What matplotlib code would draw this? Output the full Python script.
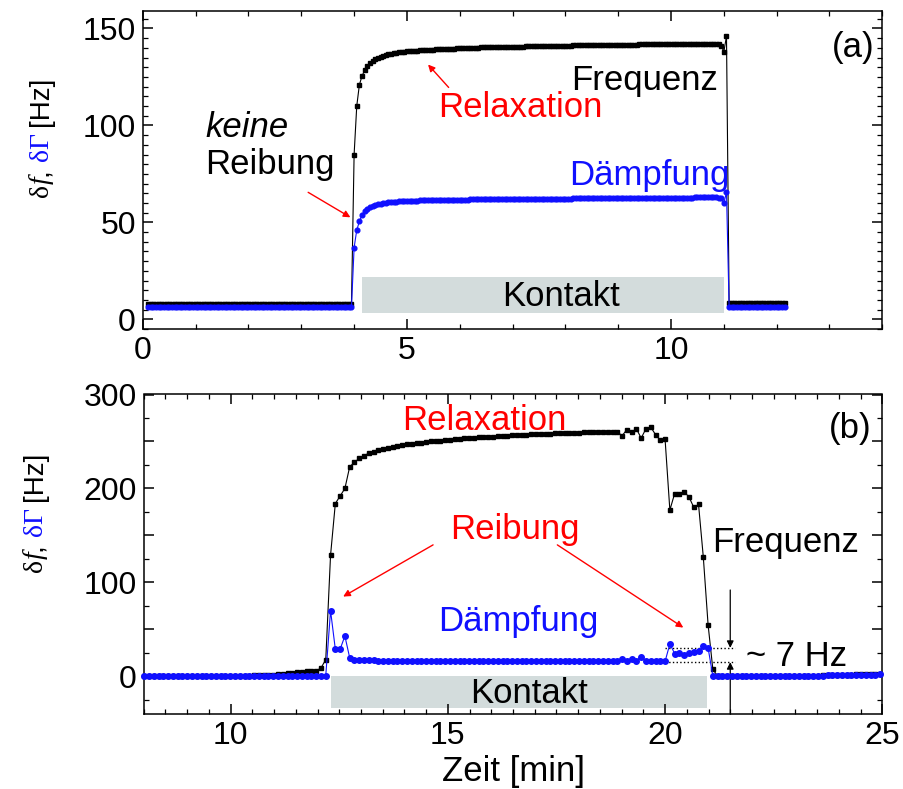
import matplotlib
matplotlib.use("Agg")
import matplotlib.pyplot as plt
import numpy as np
from matplotlib.patches import Rectangle
from matplotlib.ticker import MultipleLocator, FuncFormatter
from matplotlib.transforms import IdentityTransform

plt.rcParams["font.family"] = ["Liberation Sans", "DejaVu Sans"]

BLUE = "#1010ff"
RED = "#ff0000"
CONTACT = "#d3dcdc"

# ---- panel (a): one sample every 0.05 min, starting at 0.10 min ----
t_a_start, t_a_step = 0.10, 0.05
freq_a = [
    7.7, 7.7, 7.7, 7.7, 7.7, 7.7, 7.7, 7.7, 7.7, 7.7,
    7.7, 7.7, 7.7, 7.7, 7.7, 7.7, 7.7, 7.7, 7.7, 7.7,
    7.7, 7.7, 7.7, 7.7, 7.7, 7.7, 7.7, 7.7, 7.7, 7.7,
    7.7, 7.7, 7.7, 7.7, 7.7, 7.7, 7.7, 7.7, 7.7, 7.7,
    7.7, 7.7, 7.7, 7.7, 7.7, 7.7, 7.7, 7.8, 7.8, 7.8,
    7.8, 7.8, 7.8, 7.8, 7.8, 7.8, 7.8, 7.8, 7.8, 7.8,
    7.8, 7.8, 7.8, 7.8, 7.8, 7.8, 7.8, 7.8, 7.8, 7.8,
    7.8, 7.8, 7.8, 7.8, 7.8, 7.8, 7.8, 7.8, 85.0, 110.0,
    121.0, 125.5, 128.5, 130.5, 132.0, 133.2, 134.1, 134.8, 135.4, 135.9,
    136.3, 136.7, 137.0, 137.3, 137.5, 137.7, 137.9, 138.1, 138.2, 138.3,
    138.4, 138.5, 138.6, 138.7, 138.8, 138.9, 139.0, 139.0, 139.1, 139.2,
    139.3, 139.3, 139.4, 139.5, 139.5, 139.6, 139.6, 139.7, 139.8, 139.8,
    139.9, 139.9, 140.0, 140.0, 140.1, 140.1, 140.2, 140.2, 140.2, 140.3,
    140.3, 140.4, 140.4, 140.4, 140.5, 140.5, 140.5, 140.6, 140.6, 140.6,
    140.7, 140.7, 140.7, 140.8, 140.8, 140.8, 140.9, 140.9, 140.9, 141.0,
    141.0, 141.0, 141.0, 141.1, 141.1, 141.1, 141.1, 141.2, 141.2, 141.2,
    141.2, 141.3, 141.3, 141.3, 141.3, 141.4, 141.4, 141.4, 141.4, 141.4,
    141.5, 141.5, 141.5, 141.5, 141.5, 141.6, 141.6, 141.6, 141.6, 141.6,
    141.7, 141.7, 141.7, 141.7, 141.7, 141.7, 141.8, 141.8, 141.8, 141.8,
    141.8, 141.8, 141.9, 141.9, 141.9, 141.9, 141.9, 141.9, 142.0, 142.0,
    142.0, 142.0, 142.0, 142.0, 142.1, 142.1, 142.1, 142.1, 142.1, 142.1,
    142.2, 142.2, 142.2, 142.2, 142.2, 142.1, 142.0, 141.2, 138.0, 146.0,
    8.6, 8.6, 8.6, 8.6, 8.6, 8.6, 8.6, 8.6, 8.6, 8.6,
    8.6, 8.6, 8.6, 8.6, 8.6, 8.6, 8.6, 8.6, 8.6, 8.6,
    8.6, 8.6,
]
damp_a = [
    6.3, 6.3, 6.3, 6.3, 6.3, 6.3, 6.3, 6.3, 6.3, 6.3,
    6.3, 6.3, 6.3, 6.3, 6.3, 6.3, 6.3, 6.3, 6.3, 6.3,
    6.3, 6.3, 6.3, 6.3, 6.3, 6.3, 6.3, 6.3, 6.3, 6.3,
    6.3, 6.3, 6.3, 6.3, 6.3, 6.3, 6.3, 6.3, 6.3, 6.3,
    6.3, 6.3, 6.3, 6.3, 6.3, 6.3, 6.3, 6.3, 6.3, 6.3,
    6.3, 6.3, 6.3, 6.3, 6.3, 6.3, 6.3, 6.3, 6.3, 6.3,
    6.3, 6.3, 6.3, 6.3, 6.3, 6.3, 6.3, 6.3, 6.3, 6.3,
    6.3, 6.3, 6.3, 6.3, 6.3, 6.3, 6.3, 6.3, 37.0, 46.0,
    50.5, 54.0, 55.8, 57.0, 57.9, 58.5, 59.0, 59.4, 59.7, 59.9,
    60.1, 60.3, 60.5, 60.6, 60.7, 60.8, 60.9, 61.0, 61.0, 61.1,
    61.1, 61.2, 61.2, 61.3, 61.3, 61.3, 61.4, 61.4, 61.4, 61.5,
    61.5, 61.5, 61.5, 61.6, 61.6, 61.6, 61.6, 61.7, 61.7, 61.7,
    61.7, 61.7, 61.8, 61.8, 61.8, 61.8, 61.8, 61.9, 61.9, 61.9,
    61.9, 61.9, 61.9, 62.0, 62.0, 62.0, 62.0, 62.0, 62.0, 62.1,
    62.1, 62.1, 62.1, 62.1, 62.1, 62.1, 62.2, 62.2, 62.2, 62.2,
    62.2, 62.2, 62.2, 62.3, 62.3, 62.3, 62.3, 62.3, 62.3, 62.3,
    62.3, 62.4, 62.4, 62.4, 62.4, 62.4, 62.4, 62.4, 62.4, 62.5,
    62.5, 62.5, 62.5, 62.5, 62.5, 62.5, 62.5, 62.6, 62.6, 62.6,
    62.6, 62.6, 62.6, 62.6, 62.6, 62.6, 62.7, 62.7, 62.7, 62.7,
    62.7, 62.7, 62.7, 62.7, 62.7, 62.8, 62.8, 62.8, 62.8, 62.8,
    62.8, 62.8, 62.8, 62.8, 62.8, 62.8, 62.8, 62.9, 62.9, 62.9,
    62.9, 62.9, 62.9, 62.9, 62.9, 62.9, 62.8, 62.5, 60.0, 65.5,
    6.3, 6.3, 6.3, 6.3, 6.3, 6.3, 6.3, 6.3, 6.3, 6.3,
    6.3, 6.3, 6.3, 6.3, 6.3, 6.3, 6.3, 6.3, 6.3, 6.3,
    6.3, 6.3,
]

# ---- panel (b): one sample every 0.11 min, starting at 8.01 min ----
t_b_start, t_b_step = 8.01, 0.11
freq_b = [
    1.0, 1.0, 1.0, 1.0, 1.0, 1.0, 1.0, 1.0, 1.0, 1.0,
    1.0, 1.0, 1.0, 1.0, 1.0, 1.0, 1.0, 1.0, 1.0, 1.0,
    1.0, 1.0, 1.0, 1.1, 1.2, 1.4, 1.6, 2.0, 2.5, 3.0,
    3.5, 4.0, 4.5, 5.0, 5.3, 5.6, 6.0, 9.0, 18.0, 129.0,
    184.0, 192.0, 200.0, 223.0, 228.0, 232.0, 235.0, 237.5, 239.0, 240.5,
    242.0, 243.0, 244.0, 245.0, 246.0, 246.8, 247.5, 248.2, 248.8, 249.4,
    250.0, 250.5, 251.0, 251.5, 252.0, 252.4, 252.8, 253.2, 253.6, 254.0,
    254.3, 254.7, 255.0, 255.3, 255.6, 255.9, 256.2, 256.5, 256.8, 257.0,
    257.3, 257.5, 257.8, 258.0, 258.2, 258.4, 258.6, 258.8, 259.0, 259.2,
    259.4, 259.5, 259.7, 259.9, 260.0, 260.1, 260.2, 260.3, 260.4, 260.5,
    256.0, 262.7, 260.0, 263.5, 253.6, 263.6, 265.3, 257.3, 251.3, 252.4,
    177.0, 194.6, 194.6, 196.4, 191.0, 180.0, 183.0, 127.0, 55.0, 7.4,
    0.5, 0.5, 0.5, 0.5, 0.5, 0.5, 0.5, 0.5, 0.5, 0.5,
    0.5, 0.5, 0.5, 0.5, 0.6, 0.6, 0.7, 0.7, 0.8, 0.8,
    0.9, 1.0, 1.1, 1.2, 1.4, 1.5, 1.7, 1.8, 2.0, 2.1,
    2.2, 2.3, 2.4, 2.5, 2.5,
]
damp_b = [
    0.5, 0.5, 0.5, 0.5, 0.5, 0.5, 0.5, 0.5, 0.5, 0.5,
    0.5, 0.5, 0.5, 0.5, 0.5, 0.5, 0.5, 0.5, 0.5, 0.5,
    0.5, 0.5, 0.5, 0.5, 0.5, 0.5, 0.5, 0.5, 0.5, 0.5,
    0.5, 0.5, 0.5, 0.5, 0.5, 0.5, 0.5, 0.5, 1.0, 70.0,
    29.0, 29.0, 43.0, 20.0, 18.0, 17.5, 17.2, 17.0, 17.0, 16.8,
    16.7, 16.7, 16.7, 16.6, 16.6, 16.6, 16.6, 16.6, 16.6, 16.6,
    16.6, 16.6, 16.6, 16.6, 16.6, 16.6, 16.6, 16.6, 16.6, 16.6,
    16.6, 16.6, 16.6, 16.6, 16.6, 16.6, 16.6, 16.6, 16.6, 16.6,
    16.6, 16.6, 16.6, 16.6, 16.6, 16.6, 16.6, 16.6, 16.6, 16.6,
    16.6, 16.6, 16.6, 16.6, 16.6, 16.6, 16.6, 16.6, 16.6, 16.6,
    18.7, 16.8, 18.5, 16.8, 20.8, 16.6, 16.4, 16.4, 16.2, 16.0,
    34.6, 24.4, 25.0, 22.6, 25.0, 25.7, 26.8, 32.0, 30.4, 0.3,
    0.3, 0.3, 0.3, 0.3, 0.3, 0.3, 0.3, 0.3, 0.3, 0.3,
    0.3, 0.3, 0.3, 0.4, 0.4, 0.5, 0.5, 0.6, 0.6, 0.7,
    0.8, 0.9, 1.0, 1.1, 1.2, 1.3, 1.4, 1.5, 1.6, 1.7,
    1.8, 1.9, 2.0, 2.0, 2.1,
]

t_a = t_a_start + t_a_step * np.arange(len(freq_a))
t_b = t_b_start + t_b_step * np.arange(len(freq_b))

# contact intervals (min) and the ~7 Hz step levels in (b)
contact_a = (4.15, 11.0)
contact_b = (12.32, 20.97)
step_levels_b = (15.2, 30.4)
step_span_b = (20.0, 21.62)

FS = 25      # annotations, axis label
FS_TICK = 23

fig = plt.figure(figsize=(9.04, 7.89), dpi=100)
ax_a = fig.add_axes([0.158, 0.583, 0.818, 0.403])
ax_b = fig.add_axes([0.159, 0.095, 0.817, 0.405])


def style_axes(ax):
    for sp in ax.spines.values():
        sp.set_linewidth(1.1)
    ax.tick_params(which="both", direction="in", top=True, right=True,
                   labelsize=FS_TICK, pad=5)
    ax.tick_params(which="major", length=7, width=1.1)
    ax.tick_params(which="minor", length=3.5, width=0.9)


# ---------------- panel (a) ----------------
ax = ax_a
ax.add_patch(Rectangle((contact_a[0], 3.5), contact_a[1] - contact_a[0], 18.5,
                       facecolor=CONTACT, edgecolor="none", zorder=1))
ax.plot(t_a, freq_a, "-s", color="black", lw=0.8, ms=3.0, zorder=3)
ax.plot(t_a, damp_a, "-o", color=BLUE, lw=0.8, ms=3.4, zorder=4)
ax.set_xlim(0, 14)
ax.set_ylim(-5, 159)
ax.xaxis.set_major_locator(MultipleLocator(5))
ax.xaxis.set_minor_locator(MultipleLocator(1))
ax.yaxis.set_major_locator(MultipleLocator(50))
ax.yaxis.set_minor_locator(MultipleLocator(5))
style_axes(ax)

ax.text(13.45, 140, "(a)", fontsize=FS, ha="center", va="center")
ax.text(9.5, 123, "Frequenz", fontsize=FS, ha="center", va="center")
ax.text(7.15, 109, "Relaxation", fontsize=FS, color=RED, ha="center", va="center")
ax.text(1.97, 99, "keine", fontsize=FS, style="italic", ha="center", va="center")
ax.text(2.41, 80, "Reibung", fontsize=FS, ha="center", va="center")
ax.text(9.58, 74, "Dämpfung", fontsize=FS, color=BLUE, ha="center", va="center")
ax.text(7.91, 12, "Kontakt", fontsize=FS, ha="center", va="center", zorder=2)

red_arrow = dict(arrowstyle="-|>", color=RED, lw=1.0, mutation_scale=10,
                 shrinkA=0, shrinkB=0)
ax.annotate("", xy=(5.40, 131.4), xytext=(5.79, 119.6), arrowprops=red_arrow)
ax.annotate("", xy=(3.93, 52.6), xytext=(3.13, 65.5), arrowprops=red_arrow)

# ---------------- panel (b) ----------------
ax = ax_b
ax.add_patch(Rectangle((contact_b[0], -34), contact_b[1] - contact_b[0], 34.5,
                       facecolor=CONTACT, edgecolor="none", zorder=1))
ax.plot(t_b, freq_b, "-s", color="black", lw=0.8, ms=3.4, zorder=3, clip_on=False)
ax.plot(t_b, damp_b, "-o", color=BLUE, lw=0.8, ms=4.0, zorder=4, clip_on=False)
ax.set_xlim(8, 25)
ax.set_ylim(-40, 300)
ax.xaxis.set_major_locator(MultipleLocator(5))
ax.xaxis.set_minor_locator(MultipleLocator(0.5))
ax.yaxis.set_major_locator(MultipleLocator(50))
ax.yaxis.set_minor_locator(MultipleLocator(25))
ax.yaxis.set_major_formatter(FuncFormatter(lambda v, p: f"{v:.0f}" if v % 100 == 0 else ""))
style_axes(ax)

for lvl in step_levels_b:
    ax.plot(step_span_b, [lvl, lvl], ":", color="black", lw=1.0, zorder=2)

blk_arrow = dict(arrowstyle="-|>", color="black", lw=0.9, mutation_scale=10,
                 shrinkA=0, shrinkB=0)
ax.annotate("", xy=(21.5, step_levels_b[1]), xytext=(21.5, 92), arrowprops=blk_arrow)
ax.annotate("", xy=(21.5, step_levels_b[0]), xytext=(21.5, -40), arrowprops=blk_arrow)

ax.annotate("", xy=(12.59, 85), xytext=(14.66, 140), arrowprops=red_arrow)
ax.annotate("", xy=(20.42, 52), xytext=(17.52, 140), arrowprops=red_arrow)

ax.text(24.27, 264, "(b)", fontsize=FS, ha="center", va="center")
ax.text(15.83, 272, "Relaxation", fontsize=FS, color=RED, ha="center", va="center")
ax.text(16.55, 156, "Reibung", fontsize=FS, color=RED, ha="center", va="center")
ax.text(16.62, 58, "Dämpfung", fontsize=FS, color=BLUE, ha="center", va="center")
ax.text(22.77, 143, "Frequenz", fontsize=FS, ha="center", va="center")
ax.text(23.02, 21, "~ 7 Hz", fontsize=FS, ha="center", va="center")
ax.text(16.87, -18, "Kontakt", fontsize=FS, ha="center", va="center", zorder=2)

ax.set_xlabel("Zeit [min]", fontsize=FS, labelpad=3)


# y labels "δf, δΓ [Hz]" in two colours, stacked bottom to top
def colour_ylabel(x_px, yc_px, size=20):
    r = fig.canvas.get_renderer()
    parts = [("δ", "black", "Liberation Serif", "normal", 0),
             ("f", "black", "Liberation Serif", "italic", 1),
             (",", "black", "Liberation Sans", "normal", 7),
             ("δΓ", BLUE, "Liberation Serif", "normal", 6),
             ("[Hz]", "black", "Liberation Sans", "normal", 0)]
    objs = []
    for s, c, fam, st, gap in parts:
        t = fig.text(0, 0, s, color=c, family=fam, style=st, fontsize=size,
                     rotation=90, rotation_mode="anchor", ha="left", va="baseline",
                     transform=IdentityTransform())
        objs.append((t, gap, t.get_window_extent(r).height))
    total = sum(L + g for _, g, L in objs)
    y = yc_px - total / 2
    for t, g, L in objs:
        t.set_position((x_px, y))
        y += L + g


colour_ylabel(48, 789 - 137)
colour_ylabel(42, 789 - 512)

fig.savefig("out.png", dpi=100)
